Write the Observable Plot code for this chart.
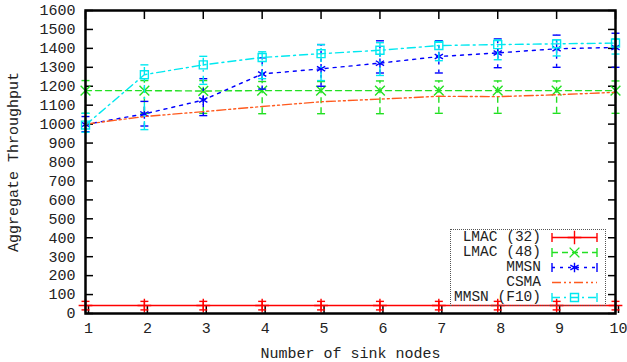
<!DOCTYPE html>
<html><head><meta charset="utf-8">
<script src="https://cdn.jsdelivr.net/npm/d3@7"></script>
<script src="https://cdn.jsdelivr.net/npm/@observablehq/plot@0.6"></script>
<style>
body{margin:0;background:#fff;}
#wrap{position:relative;width:627px;height:362px;font-family:"Liberation Mono",monospace;color:#222;}
#legend{position:absolute;left:450px;top:229px;width:156px;height:77px;border:1px dotted #555;box-sizing:border-box;}
.row{position:absolute;left:0;height:15px;width:156px;}
.row span{position:absolute;right:66px;top:0;font-size:14.5px;line-height:15px;white-space:pre;}
.row svg{position:absolute;left:99px;top:0;}
</style></head>
<body><div id="wrap"><div id="legend"></div></div>
<script>
const xs = [1, 2, 3, 4, 5, 6, 7, 8, 9, 10];
const xTicks = [1, 2, 3, 4, 5, 6, 7, 8, 9, 10];
const yTicks = [0,100,200,300,400,500,600,700,800,900,1000,1100,1200,1300,1400,1500,1600];

const seriesNames = ["LMAC (32)", "LMAC (48)", "MMSN", "CSMA", "MMSN (F10)"];

const lmac32   = [42, 42, 42, 42, 42, 42, 42, 42, 42, 42];
const lmac32Lo = [19, 19, 19, 19, 19, 19, 19, 19, 19, 19];
const lmac32Hi = [64, 64, 64, 64, 64, 64, 64, 64, 64, 64];

const lmac48   = [1177, 1177, 1175, 1177, 1177, 1177, 1177, 1177, 1177, 1177];
const lmac48Lo = [1057, 1057, 1057, 1055, 1055, 1055, 1057, 1057, 1057, 1057];
const lmac48Hi = [1230, 1230, 1230, 1225, 1225, 1228, 1228, 1228, 1228, 1228];

const mmsn   = [998, 1054, 1127, 1265, 1292, 1322, 1357, 1376, 1398, 1405];
const mmsnLo = [960, 990, 1045, 1185, 1200, 1270, 1270, 1298, 1300, 1300];
const mmsnHi = [1040, 1120, 1240, 1350, 1420, 1440, 1440, 1450, 1470, 1480];

const csma = [1000, 1040, 1066, 1093, 1118, 1132, 1147, 1145, 1155, 1168];

const f10   = [995, 1261, 1313, 1352, 1372, 1390, 1415, 1420, 1424, 1428];
const f10Lo = [957, 971, 1210, 1240, 1230, 1257, 1335, 1340, 1360, 1370];
const f10Hi = [1057, 1313, 1358, 1382, 1420, 1430, 1432, 1445, 1445, 1450];

const colors = ["#ff0000", "#22e022", "#0000ff", "#ff5a1e", "#00e8f0"];
const dashes = [null, "6,4", "3,5", "9,3,2,3,2,3", "8,4,2,4"];
const symbols = ["plus", "times", "asterisk", null, "square"];

const cap = {draw(ctx, size) { const w = Math.sqrt(size / Math.PI); ctx.moveTo(-w, 0); ctx.lineTo(w, 0); }};

function series(vals, lo, hi, color, dash, symbol) {
  const data = xs.map((x, i) => ({x, y: vals[i], lo: lo ? lo[i] : null, hi: hi ? hi[i] : null}));
  const sw = 1.4;
  const m = [];
  if (lo) {
    m.push(Plot.ruleX(data, {x: "x", y1: "lo", y2: "hi", stroke: color, strokeWidth: sw, strokeDasharray: dash}));
    m.push(Plot.dot(data, {x: "x", y: "lo", symbol: cap, r: 4, stroke: color, fill: "none", strokeWidth: sw}));
    m.push(Plot.dot(data, {x: "x", y: "hi", symbol: cap, r: 4, stroke: color, fill: "none", strokeWidth: sw}));
  }
  m.push(Plot.line(data, {x: "x", y: "y", stroke: color, strokeWidth: sw, strokeDasharray: dash}));
  if (symbol) m.push(Plot.dot(data, {x: "x", y: "y", symbol, r: 4.5, stroke: color, fill: "none", strokeWidth: sw}));
  return m;
}

const plot = Plot.plot({
  width: 627, height: 362,
  marginLeft: 85, marginRight: 12, marginTop: 10, marginBottom: 49,
  style: {fontFamily: "'Liberation Mono', monospace", fontSize: "15px", color: "#222", background: "white", overflow: "visible"},
  x: {domain: [1, 10]},
  y: {domain: [0, 1600]},
  marks: [
    Plot.axisX({anchor: "bottom", ticks: xTicks, tickSize: -8, tickPadding: 17, dx: 3, stroke: "black", strokeWidth: 1.5, tickFormat: d => String(d),
      label: "Number of sink nodes", labelAnchor: "center", labelArrow: "none", labelOffset: 44}),
    Plot.axisX({anchor: "top", ticks: xTicks, tickSize: -8, stroke: "black", strokeWidth: 1.5, tickFormat: () => "", label: null}),
    Plot.axisY({anchor: "left", ticks: yTicks, tickSize: -8, tickPadding: 18, stroke: "black", strokeWidth: 1.5, tickFormat: d => String(d),
      label: "Aggregate Throughput", labelAnchor: "center", labelArrow: "none", labelOffset: 78}),
    Plot.axisY({anchor: "right", ticks: yTicks, tickSize: -8, stroke: "black", strokeWidth: 1.5, tickFormat: () => "", label: null}),
    ...series(lmac32, lmac32Lo, lmac32Hi, colors[0], dashes[0], symbols[0]),
    ...series(lmac48, lmac48Lo, lmac48Hi, colors[1], dashes[1], symbols[1]),
    ...series(mmsn, mmsnLo, mmsnHi, colors[2], dashes[2], symbols[2]),
    ...series(csma, null, null, colors[3], dashes[3], symbols[3]),
    ...series(f10, f10Lo, f10Hi, colors[4], dashes[4], symbols[4]),
    Plot.frame({stroke: "black", strokeWidth: 2.5})
  ]
});
document.getElementById("wrap").prepend(plot);

// legend
const symMap = {plus: d3.symbolPlus, times: d3.symbolTimes, asterisk: d3.symbolAsterisk, square: d3.symbolSquare};
const hasErr = [true, true, true, false, true];
const legend = document.getElementById("legend");
seriesNames.forEach((name, i) => {
  const row = document.createElement("div");
  row.className = "row";
  row.style.top = (i * 15) + "px";
  const sp = document.createElement("span");
  sp.textContent = name;
  row.appendChild(sp);
  const ns = "http://www.w3.org/2000/svg";
  const svg = document.createElementNS(ns, "svg");
  svg.setAttribute("width", 50); svg.setAttribute("height", 15);
  const line = document.createElementNS(ns, "line");
  line.setAttribute("x1", 2); line.setAttribute("x2", 47); line.setAttribute("y1", 7.5); line.setAttribute("y2", 7.5);
  line.setAttribute("stroke", colors[i]); line.setAttribute("stroke-width", 1.4);
  if (dashes[i]) line.setAttribute("stroke-dasharray", dashes[i]);
  svg.appendChild(line);
  if (hasErr[i]) {
    [2, 47].forEach(x => {
      const c = document.createElementNS(ns, "line");
      c.setAttribute("x1", x); c.setAttribute("x2", x); c.setAttribute("y1", 3); c.setAttribute("y2", 12);
      c.setAttribute("stroke", colors[i]); c.setAttribute("stroke-width", 1.4);
      svg.appendChild(c);
    });
  }
  if (symbols[i]) {
    const p = document.createElementNS(ns, "path");
    p.setAttribute("d", d3.symbol(symMap[symbols[i]], Math.PI * 4.5 * 4.5)());
    p.setAttribute("transform", "translate(24.5,7.5)");
    p.setAttribute("fill", "none"); p.setAttribute("stroke", colors[i]); p.setAttribute("stroke-width", 1.4);
    svg.appendChild(p);
  }
  row.appendChild(svg);
  legend.appendChild(row);
});
</script>
</body></html>
